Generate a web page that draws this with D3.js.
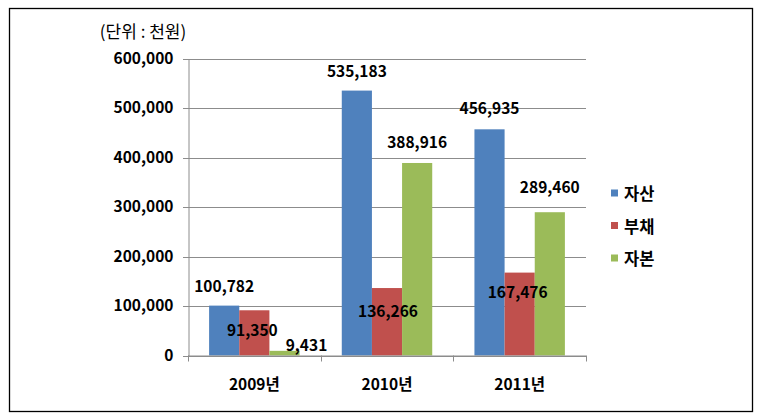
<!DOCTYPE html>
<html><head><meta charset="utf-8">
<script src="https://cdn.jsdelivr.net/npm/d3@7"></script>
<style>
html,body{margin:0;padding:0;background:#fff;}
text{font-family:"Noto Sans CJK KR","Noto Sans",sans-serif;}
</style></head>
<body><svg id="c" width="762" height="417"></svg>
<script>
const categories = ["2009년", "2010년", "2011년"];
const seriesNames = ["자산", "부채", "자본"];
const assets = [100782, 535183, 456935];
const liabilities = [91350, 136266, 167476];
const equity = [9431, 388916, 289460];
const yTicks = [0, 100000, 200000, 300000, 400000, 500000, 600000];
const unitLabel = "(단위 : 천원)";
const colors = ["#4F81BD", "#C0504D", "#9BBB59"];
// manual data label offsets [dx, dy] relative to bar top-centre (as placed in the original)
const labelOffsets = [
  [[0,-21],[-2,19],[22,-7]],
  [[0,-21],[1,22],[0,-22]],
  [[0,-22],[-2,18],[0,-26]]
];

const values = [assets, liabilities, equity];
const svg = d3.select("#c");
svg.append("rect").attr("x",9.5).attr("y",8.5).attr("width",743).attr("height",403)
  .attr("fill","#fff").attr("stroke","#000").attr("stroke-width",1.3);

const x0 = 188, x1 = 586, yTop = 58.5, yBot = 355.5;
const x = d3.scaleBand().domain(categories).range([x0, x1]).paddingInner(0).paddingOuter(0);
const y = d3.scaleLinear().domain([0, 600000]).range([yBot, yTop]);
const barW = x.bandwidth() / (3 + 1.4);
const gapSide = (x.bandwidth() - 3*barW)/2;
const numSize = 15.5;

// grid
svg.append("g").selectAll("line").data(yTicks).join("line")
  .attr("x1", x0-5).attr("x2", x1).attr("y1", d=>Math.round(y(d))+0.5).attr("y2", d=>Math.round(y(d))+0.5)
  .attr("stroke", "#8c8c8c").attr("stroke-width",1);
// y axis
const yAxis = d3.axisLeft(y).tickValues(yTicks).tickSize(0).tickPadding(15)
  .tickFormat(d3.format(","));
const gy = svg.append("g").attr("transform", `translate(${x0+0.5},0)`).call(yAxis);
gy.select(".domain").attr("stroke","#8c8c8c");
gy.selectAll("text").attr("font-size",numSize).attr("font-weight","bold").attr("fill","#000")
  .style("font-family","'Noto Sans CJK KR',sans-serif");

// bars
const g = svg.append("g");
categories.forEach((c, ci) => {
  values.forEach((vals, si) => {
    const bx = x(c) + gapSide + si*barW;
    g.append("rect").attr("x", bx).attr("y", y(vals[ci])).attr("width", barW)
      .attr("height", yBot - y(vals[ci])).attr("fill", colors[si]);
  });
});
// x axis
svg.append("line").attr("x1",x0).attr("x2",x1).attr("y1",yBot+0.5).attr("y2",yBot+0.5).attr("stroke","#8c8c8c");
const xAxis = d3.axisBottom(x).tickSize(0).tickPadding(0);
const gx = svg.append("g").attr("transform",`translate(0,${yBot+0.5})`).call(xAxis);
gx.select(".domain").remove();
gx.selectAll("text").attr("font-size",numSize).attr("font-weight","bold").attr("fill","#000")
  .attr("dy", 0).attr("y", 30).attr("dominant-baseline","middle")
  .style("font-family","'Noto Sans CJK KR',sans-serif");
// category boundary ticks
svg.append("g").selectAll("line").data(d3.range(categories.length+1)).join("line")
  .attr("x1", i => Math.round(x0 + i*x.bandwidth())+0.5)
  .attr("x2", i => Math.round(x0 + i*x.bandwidth())+0.5)
  .attr("y1", yBot).attr("y2", yBot+6).attr("stroke","#8c8c8c");

// data labels
categories.forEach((c, ci) => {
  values.forEach((vals, si) => {
    const cx = x(c) + gapSide + si*barW + barW/2;
    const off = labelOffsets[ci][si];
    svg.append("text").attr("x", cx + off[0]).attr("y", y(vals[ci]) + off[1])
      .attr("text-anchor","middle").attr("dominant-baseline","central")
      .attr("font-size",numSize).attr("font-weight","bold").attr("fill","#000")
      .text(d3.format(",")(vals[ci]));
  });
});

// unit label
svg.append("text").attr("x",143).attr("y",30).attr("text-anchor","middle")
  .attr("dominant-baseline","central").attr("font-size",17).attr("fill","#000").text(unitLabel);

// legend
const lg = svg.append("g").attr("transform","translate(611,0)");
seriesNames.forEach((n,i) => {
  const cy = 193 + i*32.5;
  lg.append("rect").attr("x",0).attr("y",cy-3.5).attr("width",7).attr("height",7).attr("fill",colors[i]);
  lg.append("text").attr("x",13).attr("y",cy).attr("dominant-baseline","central")
    .attr("font-size",16.5).attr("font-weight","bold").attr("fill","#000").text(n);
});
</script></body></html>
